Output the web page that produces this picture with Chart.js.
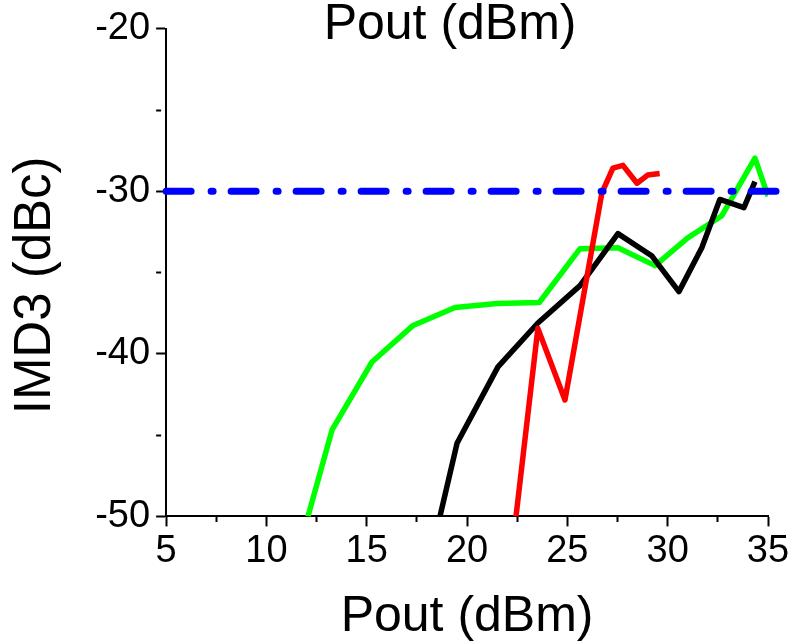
<!DOCTYPE html>
<html>
<head>
<meta charset="utf-8">
<script src="https://cdn.jsdelivr.net/npm/chart.js@4/dist/chart.umd.min.js"></script>
<style>
  html, body { margin: 0; padding: 0; background: #fff; }
</style>
</head>
<body>
<canvas id="chart" width="792" height="644"></canvas>
<script>
const FONT = '"Liberation Sans", Arial, sans-serif';

const xTitle = 'Pout (dBm)';
const yTitle = 'IMD3 (dBc)';
const xRange = [5, 35];
const yRange = [-50, -20];
const xMajor = 5, xMinor = 2.5;
const yMajor = 10, yMinor = 5;

// -30 dBc spec line (runs a touch past the right edge in the original)
const limitX = [5, 35.4];
const limitY = [-30, -30];

const redX = [22.44, 23.53, 24.88, 26.72, 27.27, 27.77, 28.47, 29.0, 29.6];
const redY = [-50, -38.43, -42.84, -30.1, -28.57, -28.4, -29.5, -29.0, -28.9];

const blackX = [18.65, 19.5, 21.54, 23.53, 25.63, 27.52, 29.2, 30.56, 31.7, 32.6, 33.8, 34.35];
const blackY = [-50, -45.5, -40.8, -38.1, -35.8, -32.6, -33.96, -36.17, -33.47, -30.5, -31.0, -29.4];

const greenX = [12.07, 13.27, 15.26, 17.31, 19.4, 21.5, 23.6, 25.63, 27.52, 29.37, 31.0, 32.7, 34.35, 35.0];
const greenY = [-50, -44.68, -40.5, -38.25, -37.15, -36.9, -36.84, -33.53, -33.47, -34.57, -32.86, -31.5, -27.96, -30.3];

const pts = (xs, ys) => xs.map((x, i) => ({ x, y: ys[i] }));

function line(label, xs, ys, color, extra) {
    return Object.assign({
        label,
        data: pts(xs, ys),
        borderColor: color,
        backgroundColor: color,
        borderWidth: 5.5,
        pointRadius: 0,
        tension: 0,
        fill: false,
        borderJoinStyle: 'round',
    }, extra || {});
}

const isMajor = (v, step) => Math.abs(v / step - Math.round(v / step)) < 1e-6;

// top axis title sits on the top edge of the plot, slightly left of centre
const topTitle = {
    id: 'topTitle',
    afterDraw(chart) {
        const { ctx, chartArea } = chart;
        ctx.save();
        ctx.font = '50px ' + FONT;
        ctx.fillStyle = '#000';
        ctx.textAlign = 'center';
        ctx.textBaseline = 'alphabetic';
        ctx.fillText(xTitle, (chartArea.left + chartArea.right) / 2 - 17, chartArea.top + 10);
        ctx.restore();
    }
};

new Chart(document.getElementById('chart'), {
    type: 'line',
    data: {
        datasets: [
            line('limit', limitX, limitY, '#0000ff', {
                borderWidth: 7, borderDash: [25, 20, 2, 18], borderCapStyle: 'round',
                clip: { left: 4, right: 14, top: 8, bottom: 8 },
            }),
            line('red', redX, redY, '#ff0000'),
            line('black', blackX, blackY, '#000000'),
            line('green', greenX, greenY, '#00ff00'),
        ]
    },
    plugins: [topTitle],
    options: {
        responsive: false,
        animation: false,
        devicePixelRatio: 1,
        layout: { padding: { left: 5, right: 24, top: 27, bottom: 0 } },
        plugins: { legend: { display: false }, tooltip: { enabled: false } },
        scales: {
            x: {
                type: 'linear', min: xRange[0], max: xRange[1],
                ticks: {
                    stepSize: xMinor, autoSkip: false, maxRotation: 0, color: '#000', padding: 2,
                    font: { family: FONT, size: 38 },
                    callback: v => isMajor(v, xMajor) ? String(v) : '',
                },
                grid: {
                    drawOnChartArea: false, tickLength: 10, tickWidth: 2, tickColor: '#000',
                    tickBorderDash: c => (c.tick && !isMajor(c.tick.value, xMajor)) ? [5, 30] : [],
                },
                border: { color: '#000', width: 2 },
                title: { display: true, text: xTitle, color: '#000', font: { family: FONT, size: 50 }, padding: { top: 11, bottom: -3 } },
            },
            y: {
                type: 'linear', min: yRange[0], max: yRange[1],
                ticks: {
                    stepSize: yMinor, autoSkip: false, color: '#000', padding: 6,
                    font: { family: FONT, size: 38 },
                    callback: v => isMajor(v, yMajor) ? String(v) : '',
                },
                grid: {
                    drawOnChartArea: false, tickLength: 10, tickWidth: 2, tickColor: '#000',
                    tickBorderDash: c => (c.tick && !isMajor(c.tick.value, yMajor)) ? [5, 30] : [],
                },
                border: { color: '#000', width: 2 },
                title: { display: true, text: yTitle + '\u2002', color: '#000', font: { family: FONT, size: 51 }, padding: { top: 0, bottom: 23 } },
            }
        }
    }
});
</script>
</body>
</html>
